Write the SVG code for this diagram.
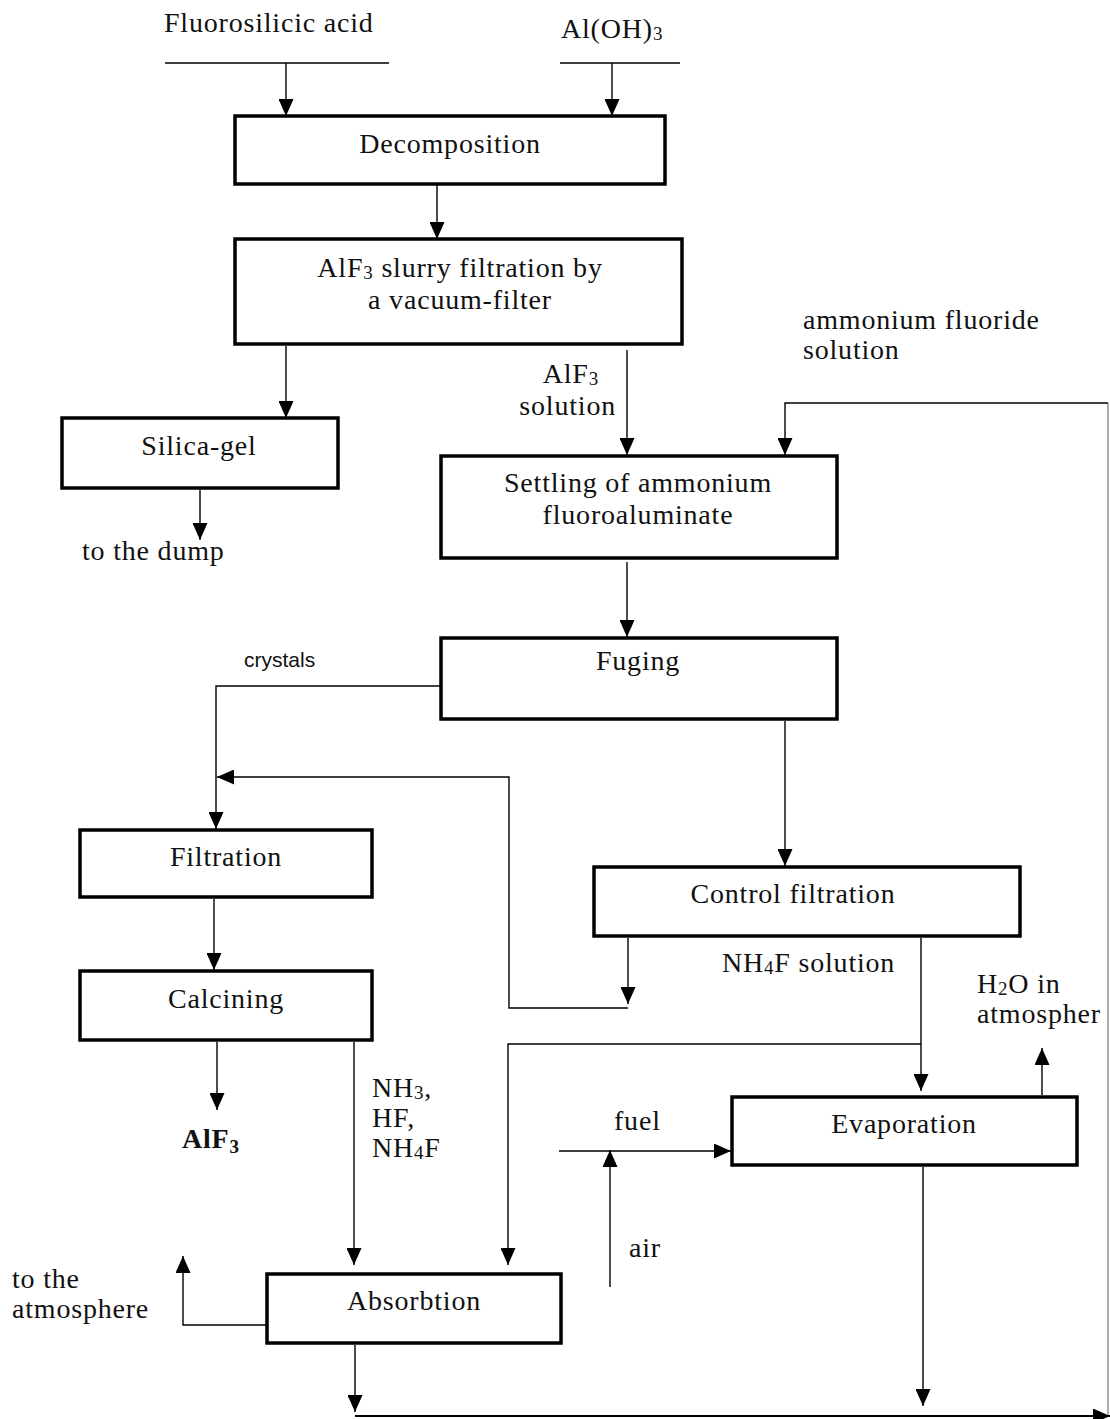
<svg xmlns="http://www.w3.org/2000/svg" width="1110" height="1419" viewBox="0 0 1110 1419">
<style>
.box{fill:#fff;stroke:#000;stroke-width:3.5}
.ln{fill:none;stroke:#000;stroke-width:1.4}
.faint{fill:none;stroke:#777;stroke-width:1.2}
text{font-family:"Liberation Serif","Times New Roman",serif;font-size:28px;fill:#111;letter-spacing:0.8px}
.c{text-anchor:middle}
.e{text-anchor:end}
.sans{font-family:"Liberation Sans",Arial,sans-serif;font-size:21px;letter-spacing:0}
.sub{font-size:19px}
</style>
<defs>
<marker id="ah" markerUnits="userSpaceOnUse" markerWidth="17" markerHeight="15" viewBox="0 0 17 15" refX="17" refY="7.5" orient="auto">
<path d="M0,0 L17,7.5 L0,15 z" fill="#000"/>
</marker>
</defs>

<g id="connectors">
<path class="ln" d="M165,63 H389"/>
<path class="ln" d="M286,63 V116" marker-end="url(#ah)"/>
<path class="ln" d="M560,63 H680"/>
<path class="ln" d="M612,63 V116" marker-end="url(#ah)"/>
<path class="ln" d="M437,184 V239" marker-end="url(#ah)"/>
<path class="ln" d="M286,346 V418" marker-end="url(#ah)"/>
<path class="ln" d="M200,490 V540" marker-end="url(#ah)"/>
<path class="ln" d="M627,350 V455" marker-end="url(#ah)"/>
<path class="faint" d="M1108,1416 V403"/>
<path class="ln" d="M1108,403 H785 V455" marker-end="url(#ah)"/>
<path class="ln" d="M627,562 V637" marker-end="url(#ah)"/>
<path class="ln" d="M441,686 H216 V829" marker-end="url(#ah)"/>
<path class="ln" d="M785,721 V866" marker-end="url(#ah)"/>
<path class="ln" d="M628,938 V1004" marker-end="url(#ah)"/>
<path class="ln" d="M628,1008 H509 V777 H217" marker-end="url(#ah)"/>
<path class="ln" d="M214,899 V970" marker-end="url(#ah)"/>
<path class="ln" d="M921,938 V1091" marker-end="url(#ah)"/>
<path class="ln" d="M921,1044 H508 V1265" marker-end="url(#ah)"/>
<path class="ln" d="M217,1042 V1110" marker-end="url(#ah)"/>
<path class="ln" d="M354,1042 V1265" marker-end="url(#ah)"/>
<path class="ln" d="M267,1325 H183 V1256" marker-end="url(#ah)"/>
<path class="ln" d="M355,1345 V1412" marker-end="url(#ah)"/>
<path class="ln" d="M559,1151 H731" marker-end="url(#ah)"/>
<path class="ln" d="M610,1287 V1150" marker-end="url(#ah)"/>
<path class="ln" d="M1042,1095 V1048" marker-end="url(#ah)"/>
<path class="ln" d="M923,1167 V1406" marker-end="url(#ah)"/>
<path class="ln" d="M355,1416 H1110" marker-end="url(#ah)" style="stroke-width:2"/>
</g>

<g id="labels">
<text x="164" y="32">Fluorosilicic acid</text>
<text x="561" y="38">Al(OH)<tspan class="sub" dy="2">3</tspan></text>
<text x="82" y="560">to the dump</text>
<text class="e" x="599" y="383">AlF<tspan class="sub" dy="2">3</tspan></text>
<text class="e" x="616" y="415">solution</text>
<text x="803" y="329">ammonium fluoride</text>
<text x="803" y="359">solution</text>
<text class="sans" x="244" y="667">crystals</text>
<text x="722" y="972">NH<tspan class="sub" dy="2">4</tspan><tspan dy="-2">F solution</tspan></text>
<text x="977" y="993">H<tspan class="sub" dy="2">2</tspan><tspan dy="-2">O in</tspan></text>
<text x="977" y="1023">atmospher</text>
<text x="182" y="1148" style="font-weight:bold">AlF<tspan class="sub" dy="5">3</tspan></text>
<text x="372" y="1097">NH<tspan class="sub" dy="2">3</tspan><tspan dy="-2">,</tspan></text>
<text x="372" y="1127">HF,</text>
<text x="372" y="1157">NH<tspan class="sub" dy="2">4</tspan><tspan dy="-2">F</tspan></text>
<text x="614" y="1130">fuel</text>
<text x="629" y="1257">air</text>
<text x="12" y="1288">to the</text>
<text x="12" y="1318">atmosphere</text>
</g>

<g id="decomposition">
<rect class="box" x="235" y="116" width="430" height="68"/>
<text class="c" x="450" y="153">Decomposition</text>
</g>
<g id="slurry-filtration">
<rect class="box" x="235" y="239" width="447" height="105"/>
<text class="c" x="460" y="277">AlF<tspan class="sub" dy="2">3</tspan><tspan dy="-2"> slurry filtration by</tspan></text>
<text class="c" x="460" y="309">a vacuum-filter</text>
</g>
<g id="silica-gel">
<rect class="box" x="62" y="418" width="276" height="70"/>
<text class="c" x="199" y="455">Silica-gel</text>
</g>
<g id="settling">
<rect class="box" x="441" y="456" width="396" height="102"/>
<text class="c" x="638" y="492">Settling of ammonium</text>
<text class="c" x="638" y="524">fluoroaluminate</text>
</g>
<g id="fuging">
<rect class="box" x="441" y="638" width="396" height="81"/>
<text class="c" x="638" y="670">Fuging</text>
</g>
<g id="filtration">
<rect class="box" x="80" y="830" width="292" height="67"/>
<text class="c" x="226" y="866">Filtration</text>
</g>
<g id="control-filtration">
<rect class="box" x="594" y="867" width="426" height="69"/>
<text class="c" x="793" y="903">Control filtration</text>
</g>
<g id="calcining">
<rect class="box" x="80" y="971" width="292" height="69"/>
<text class="c" x="226" y="1008">Calcining</text>
</g>
<g id="evaporation">
<rect class="box" x="732" y="1097" width="345" height="68"/>
<text class="c" x="904" y="1133">Evaporation</text>
</g>
<g id="absorbtion">
<rect class="box" x="267" y="1274" width="294" height="69"/>
<text class="c" x="414" y="1310">Absorbtion</text>
</g>
</svg>
